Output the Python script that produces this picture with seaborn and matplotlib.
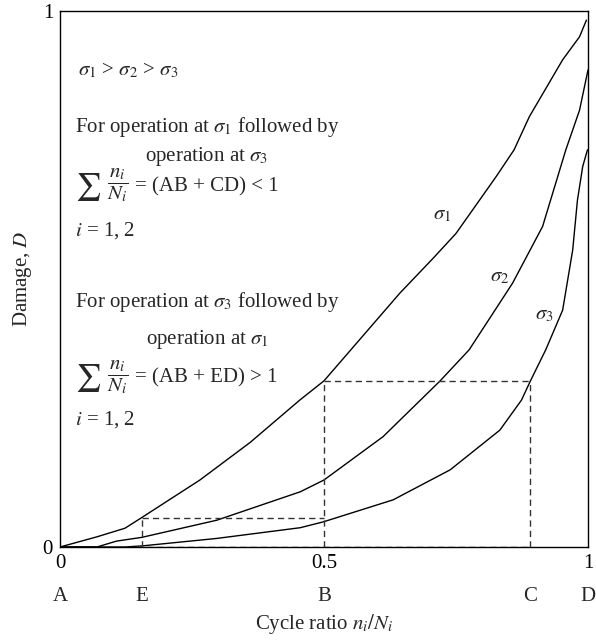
"""
Damage vs cycle ratio for three stress levels (Miner's rule illustration)
"""

import matplotlib
matplotlib.use('Agg')
import matplotlib.pyplot as plt
import seaborn as sns

# damage curves
SIGMA1_X = [0, 0.07, 0.123, 0.155, 0.265, 0.36, 0.454, 0.5, 0.644, 0.707,
            0.75, 0.826, 0.86, 0.889, 0.952, 0.984, 0.997]
SIGMA1_D = [0, 0.019, 0.035, 0.055, 0.125, 0.195, 0.274, 0.31, 0.474, 0.539,
            0.585, 0.691, 0.741, 0.803, 0.909, 0.952, 0.983]

SIGMA2_X = [0, 0.07, 0.107, 0.155, 0.297, 0.455, 0.5, 0.612, 0.72, 0.775,
            0.857, 0.914, 0.958, 0.984, 1.0]
SIGMA2_D = [0, 0, 0.011, 0.018, 0.05, 0.103, 0.125, 0.206, 0.31, 0.368,
            0.492, 0.598, 0.741, 0.815, 0.89]

SIGMA3_X = [0, 0.123, 0.155, 0.297, 0.455, 0.499, 0.631, 0.739, 0.833, 0.874,
            0.891, 0.92, 0.952, 0.971, 0.98, 0.99, 0.999]
SIGMA3_D = [0, 0, 0.002, 0.016, 0.036, 0.047, 0.088, 0.144, 0.218, 0.274,
            0.31, 0.368, 0.442, 0.554, 0.647, 0.71, 0.741]

# construction points on the cycle ratio axis
POINT_NAMES = ['A', 'E', 'B', 'C', 'D']
POINT_X = [0, 0.155, 0.5, 0.891, 1.0]
LOW_LEVEL = 0.055   # damage reached at E on sigma1
HIGH_LEVEL = 0.31   # damage reached at B on sigma1

X_TICKS = [0, 0.5, 1]
X_TICK_LABELS = ['0', '0.5', '1']
Y_TICKS = [0, 1]
Y_TICK_LABELS = ['0', '1']

sns.set_theme(style='white')
plt.rcParams['font.family'] = ['Liberation Serif', 'DejaVu Serif']
plt.rcParams['mathtext.fontset'] = 'stix'

FS = 15

fig = plt.figure(figsize=(5.96, 6.42), dpi=100)
ax = fig.add_axes([60 / 596, 95 / 642, 528 / 596, 536 / 642])

for xs, ds in [(SIGMA1_X, SIGMA1_D), (SIGMA2_X, SIGMA2_D), (SIGMA3_X, SIGMA3_D)]:
    sns.lineplot(x=xs, y=ds, ax=ax, color='black', lw=1.0,
                 sort=False, estimator=None)

# dashed construction lines
xE, xB, xC = POINT_X[1], POINT_X[2], POINT_X[3]
dash = dict(color='#333333', lw=1.0, ls=(0, (4.5, 3)))
ax.plot([xE, xE], [0, LOW_LEVEL], **dash)
ax.plot([xE, xB], [LOW_LEVEL, LOW_LEVEL], **dash)
ax.plot([xB, xB], [0, HIGH_LEVEL], **dash)
ax.plot([xB, xC], [HIGH_LEVEL, HIGH_LEVEL], **dash)
ax.plot([xC, xC], [0, HIGH_LEVEL], **dash)
ax.plot([0.123, xC], [0, 0], **dash)

# curve labels
ax.text(0.723, 0.619, r'$\sigma_1$', fontsize=FS, ha='center', va='center')
ax.text(0.832, 0.504, r'$\sigma_2$', fontsize=FS, ha='center', va='center')
ax.text(0.917, 0.433, r'$\sigma_3$', fontsize=FS, ha='center', va='center')


def miner_sum(y, rhs):
    # big summation sign, display fraction, then the right-hand side
    ax.text(0.028, y, r'$\sum$', fontsize=FS * 1.35, va='center')
    ax.text(0.110, y + 0.003, r'$\dfrac{n_i}{N_i}$', fontsize=FS, ha='center', va='center')
    ax.text(0.142, y, rhs, fontsize=FS, va='center')


# explanatory text
ax.text(0.034, 0.89, r'$\sigma_1$ > $\sigma_2$ > $\sigma_3$', fontsize=FS, va='center')
ax.text(0.028, 0.784, r'For operation at $\sigma_1$ followed by', fontsize=FS, va='center')
ax.text(0.278, 0.728, r'operation at $\sigma_3$', fontsize=FS, ha='center', va='center')
miner_sum(0.672, '= (AB + CD) < 1')
ax.text(0.028, 0.591, r'$i$ = 1, 2', fontsize=FS, va='center')

ax.text(0.028, 0.457, r'For operation at $\sigma_3$ followed by', fontsize=FS, va='center')
ax.text(0.278, 0.388, r'operation at $\sigma_1$', fontsize=FS, ha='center', va='center')
miner_sum(0.315, '= (AB + ED) > 1')
ax.text(0.028, 0.237, r'$i$ = 1, 2', fontsize=FS, va='center')

# point letters under the axis
for name, px in zip(POINT_NAMES, POINT_X):
    ax.text(px, -0.093, name, fontsize=FS, ha='center', va='center',
            transform=ax.get_xaxis_transform())

ax.set_xlim(0, 1)
ax.set_ylim(0, 1)
ax.set_xticks(X_TICKS)
ax.set_xticklabels(X_TICK_LABELS)
ax.set_yticks(Y_TICKS)
ax.set_yticklabels(Y_TICK_LABELS)
ax.tick_params(length=0, labelsize=FS, pad=5, colors='black')
ax.set_xlabel(r'Cycle ratio $n_i/N_i$', fontsize=FS, labelpad=28)
ax.set_ylabel(r'Damage, $D$', fontsize=FS, labelpad=6)

for side in ['left', 'right', 'top', 'bottom']:
    ax.spines[side].set_visible(True)
    ax.spines[side].set_color('black')
    ax.spines[side].set_linewidth(1.0)

fig.savefig('out.png', dpi=100)
